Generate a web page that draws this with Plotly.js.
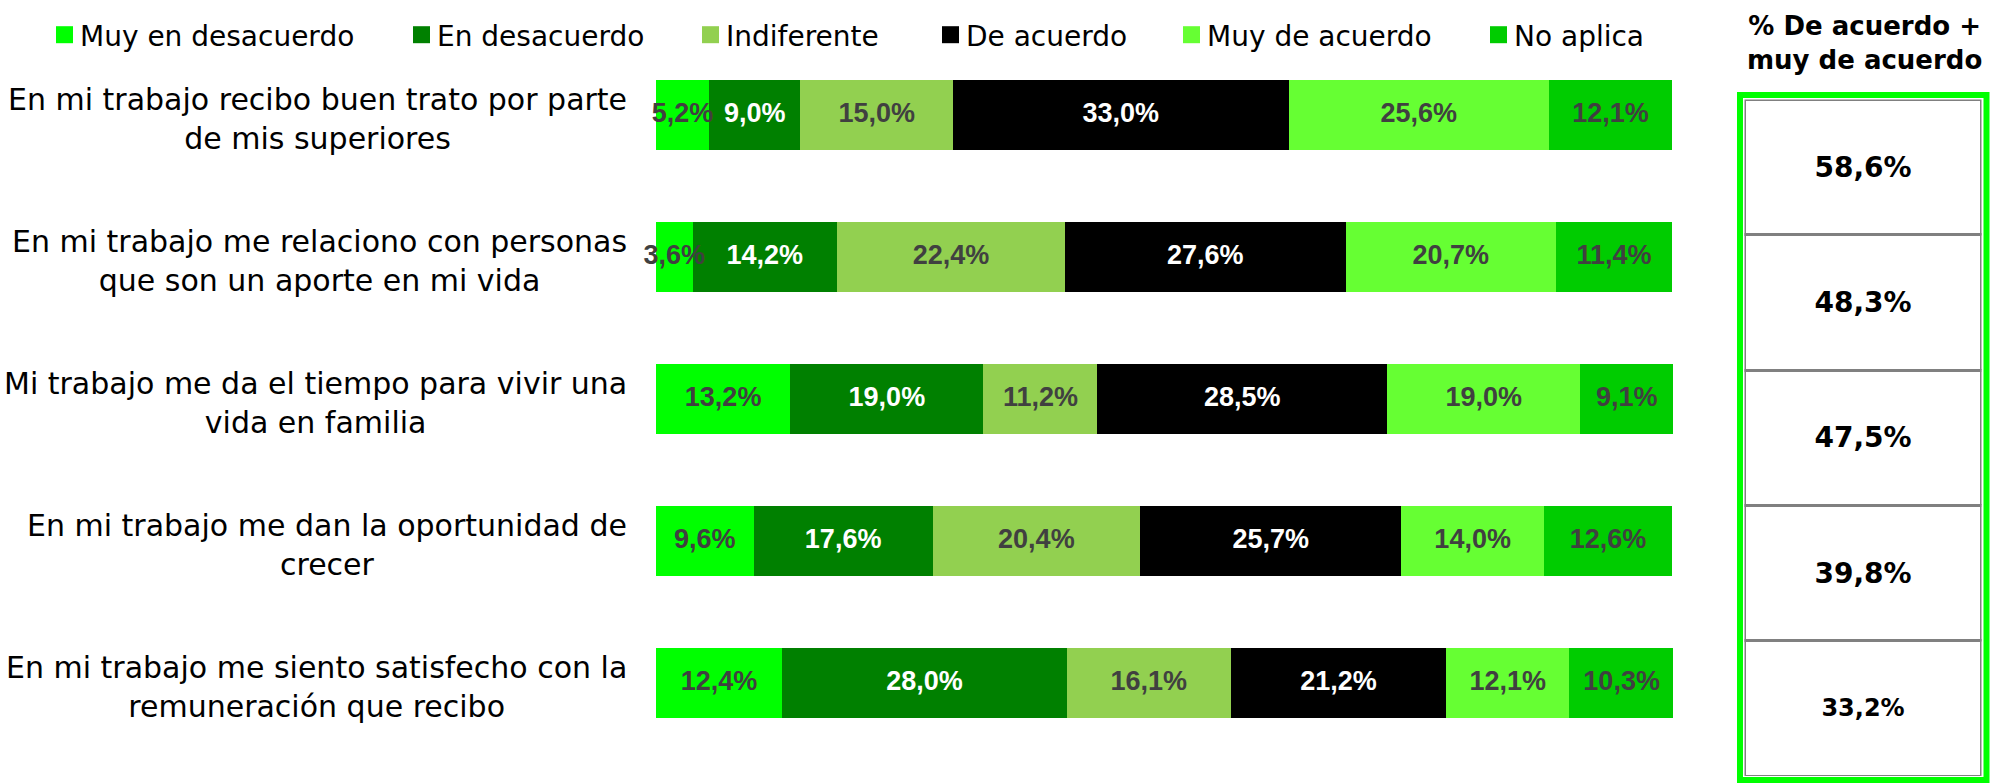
<!DOCTYPE html>
<html>
<head>
<meta charset="utf-8">
<script src="https://cdn.plot.ly/plotly-3.0.1.min.js"></script>
<style>html,body{margin:0;padding:0;background:#fff;}#chart{width:2002px;height:783px;}</style>
</head>
<body>
<div id="chart"></div>
<script>
// ---- data ----
const statements = [
  "En mi trabajo recibo buen trato por parte<br>de mis superiores",
  "En mi trabajo me relaciono con personas<br>que son un aporte en mi vida",
  "Mi trabajo me da el tiempo para vivir una<br>vida en familia",
  "En mi trabajo me dan la oportunidad de<br>crecer",
  "En mi trabajo me siento satisfecho con la<br>remuneración que recibo"
];
const seriesNames = ["Muy en desacuerdo", "En desacuerdo", "Indiferente", "De acuerdo", "Muy de acuerdo", "No aplica"];
const muyEnDesacuerdo = [5.2, 3.6, 13.2, 9.6, 12.4];
const enDesacuerdo    = [9.0, 14.2, 19.0, 17.6, 28.0];
const indiferente     = [15.0, 22.4, 11.2, 20.4, 16.1];
const deAcuerdo       = [33.0, 27.6, 28.5, 25.7, 21.2];
const muyDeAcuerdo    = [25.6, 20.7, 19.0, 14.0, 12.1];
const noAplica        = [12.1, 11.4, 9.1, 12.6, 10.3];
const pctAcuerdo      = [58.6, 48.3, 47.5, 39.8, 33.2];
const tableTitle = "% De acuerdo +<br>muy de acuerdo";

// ---- styles ----
const W = 2002, H = 783;
const colors = ["#00FF00", "#008000", "#92D050", "#000000", "#66FF33", "#00CC00"];
const textColors = ["#404040", "#FFFFFF", "#404040", "#FFFFFF", "#404040", "#404040"];
const legendWidths = [312, 244, 195, 196, 262, 150];
const seriesValues = [muyEnDesacuerdo, enDesacuerdo, indiferente, deAcuerdo, muyDeAcuerdo, noAplica];
const barFont = "Liberation Sans, Arial, sans-serif";

const traces = seriesValues.map((vals, i) => ({
  type: "bar",
  orientation: "h",
  name: seriesNames[i],
  x: vals,
  y: statements,
  width: 0.493,
  marker: {color: colors[i], line: {width: 0}},
  legendwidth: legendWidths[i],
  hoverinfo: "skip",
  xaxis: "x", yaxis: "y"
}));

// value labels drawn on top of all bars, centred in each segment
const cumulative = statements.map(() => 0);
seriesValues.forEach((vals, i) => {
  const mids = vals.map((v, r) => cumulative[r] + v / 2);
  vals.forEach((v, r) => { cumulative[r] += v; });
  traces.push({
    type: "scatter",
    mode: "text",
    x: mids,
    y: statements,
    customdata: vals,
    texttemplate: "%{customdata:.1f}%",
    textposition: "middle center",
    textfont: {family: barFont, size: 27, color: textColors[i], weight: "bold"},
    cliponaxis: false,
    showlegend: false,
    hoverinfo: "skip",
    xaxis: "x", yaxis: "y"
  });
});

// table cells (one bar per row spanning the cell)
traces.push({
  type: "bar",
  orientation: "h",
  x: pctAcuerdo.map(() => 1),
  y: statements,
  width: 1,
  customdata: pctAcuerdo,
  texttemplate: "%{customdata:.1f}%",
  textposition: "inside",
  insidetextanchor: "middle",
  constraintext: "none",
  textangle: 0,
  insidetextfont: {family: "DejaVu Sans, Verdana, sans-serif", size: [28, 28, 28, 28, 24], color: "#000000", weight: "bold"},
  marker: {color: "#FFFFFF", line: {color: "#808080", width: 3}},
  showlegend: false,
  hoverinfo: "skip",
  xaxis: "x2", yaxis: "y2"
});

const annotations = statements.map(s => ({
  xref: "paper", yref: "y",
  x: 629 / W, y: s,
  xanchor: "right", yanchor: "middle",
  align: "center",
  yshift: -4,
  text: s,
  showarrow: false,
  font: {family: "DejaVu Sans, sans-serif", size: 30, color: "#000000"}
}));
annotations.push({
  xref: "paper", yref: "paper",
  x: 1864 / W, y: 1 - 43 / H,
  xanchor: "center", yanchor: "middle",
  align: "center",
  text: tableTitle,
  showarrow: false,
  font: {family: "DejaVu Sans, sans-serif", size: 26, color: "#000000", weight: "bold"}
});

const layout = {
  width: W, height: H,
  margin: {l: 0, r: 0, t: 0, b: 0},
  paper_bgcolor: "#FFFFFF",
  plot_bgcolor: "rgba(0,0,0,0)",
  barmode: "stack",
  separators: ",.",
  showlegend: true,
  legend: {
    orientation: "h",
    x: 40 / W, xanchor: "left",
    y: 1 - 35 / H, yanchor: "middle",
    font: {family: "DejaVu Sans, sans-serif", size: 28, color: "#000000"},
    itemwidth: 30,
    traceorder: "normal",
    bgcolor: "rgba(0,0,0,0)"
  },
  xaxis: {
    domain: [656 / W, 1673 / W], range: [0, 100],
    visible: false, fixedrange: true
  },
  yaxis: {
    domain: [1 - 754 / H, 1 - 44 / H],
    type: "category",
    categoryorder: "array", categoryarray: statements,
    range: [4.5, -0.5],
    visible: false, fixedrange: true
  },
  xaxis2: {
    domain: [1744.5 / W, 1981.5 / W], range: [0, 1],
    anchor: "y2", visible: false, fixedrange: true
  },
  yaxis2: {
    domain: [1 - 776 / H, 1 - 99.5 / H],
    type: "category",
    categoryorder: "array", categoryarray: statements,
    range: [4.5, -0.5],
    anchor: "x2", visible: false, fixedrange: true
  },
  shapes: [{
    type: "rect", xref: "paper", yref: "paper",
    x0: 1740 / W, x1: 1986.5 / W, y0: 1 - 780 / H, y1: 1 - 95 / H,
    line: {color: "#00FF00", width: 6},
    fillcolor: "rgba(0,0,0,0)",
    layer: "above"
  }],
  annotations: annotations
};

Plotly.newPlot("chart", traces, layout, {displayModeBar: false, staticPlot: true}).then(gd => {
  // larger legend squares, closer to their text (as in the original chart)
  gd.querySelectorAll(".legend .legendpoints path").forEach(p => {
    const t = p.getAttribute("transform") || "";
    p.setAttribute("d", "M8.5,8.5H-8.5V-8.5H8.5Z");
    p.setAttribute("transform", (t + " translate(4.5,0)").trim());
  });
});
</script>
</body>
</html>
